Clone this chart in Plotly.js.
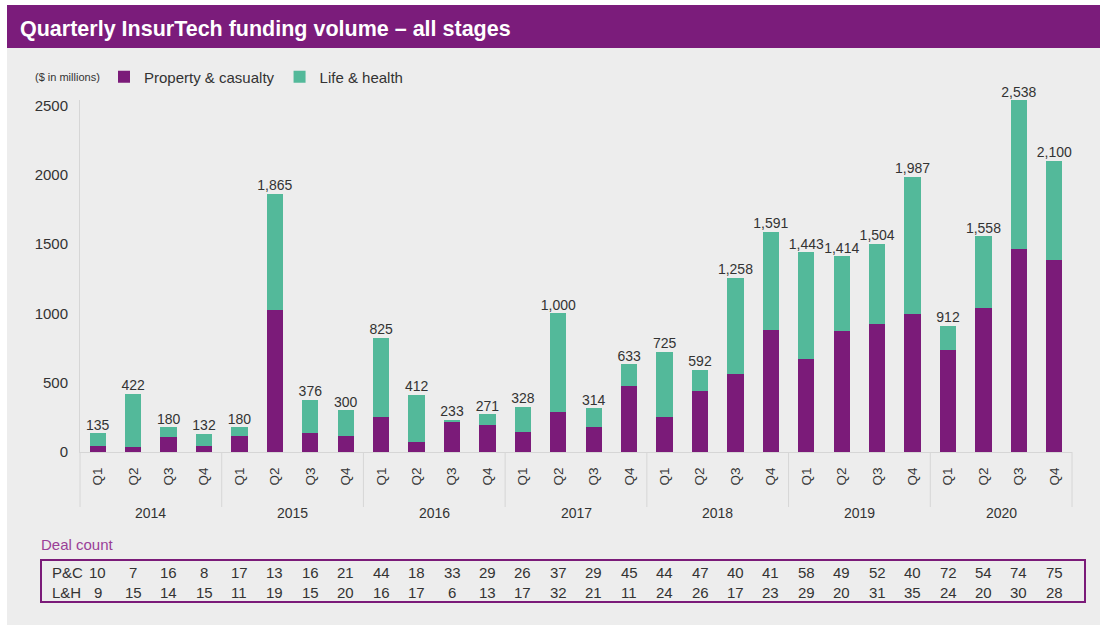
<!DOCTYPE html>
<html>
<head>
<meta charset="utf-8">
<script src="https://cdn.plot.ly/plotly-3.0.1.min.js"></script>
<style>html,body{margin:0;padding:0;background:#fff;}#chart{width:1100px;height:625px;}</style>
</head>
<body>
<div id="chart"></div>
<script>
const years = ['2014','2015','2016','2017','2018','2019','2020'];
const quarters = ['Q1','Q2','Q3','Q4'];
const totals = [135,422,180,132, 180,1865,376,300, 825,412,233,271, 328,1000,314,633, 725,592,1258,1591, 1443,1414,1504,1987, 912,1558,2538,2100];
const pcValues = [45,38,105,45, 119,1024,138,112, 250,74,219,192, 145,290,178,478, 250,442,563,879, 668,872,924,998, 739,1038,1468,1383];
const lhValues = [90,384,75,87, 61,841,238,188, 575,338,14,79, 183,710,136,155, 475,150,695,712, 775,542,580,989, 173,520,1070,717];
const pcDeals = [10,7,16,8, 17,13,16,21, 44,18,33,29, 26,37,29,45, 44,47,40,41, 58,49,52,40, 72,54,74,75];
const lhDeals = [9,15,14,15, 11,19,15,20, 16,17,6,13, 17,32,21,11, 24,26,17,23, 29,20,31,35, 24,20,30,28];
const yTicks = [0,500,1000,1500,2000,2500];

const PURPLE = '#7b1b79';
const TEAL = '#53b99a';
const TXT = '#333333';
const GRID = '#d6d6d6';
const FONT = 'Liberation Sans, Arial, sans-serif';

const xCat = [], xLab = [];
years.forEach(y => quarters.forEach(q => { xCat.push(y + ' ' + q); xLab.push(q); }));
const n = xCat.length;

const traces = [
  {type:'bar', name:'Property & casualty', x:xCat, y:pcValues, marker:{color:PURPLE}, hoverinfo:'y+name'},
  {type:'bar', name:'Life & health', x:xCat, y:lhValues, marker:{color:TEAL}, hoverinfo:'y+name'},
  {type:'scatter', mode:'text', x:xCat, y:totals, text:totals.map(v=>v.toLocaleString('en-US')),
   textposition:'top center', textfont:{size:14, color:TXT, family:FONT}, showlegend:false, hoverinfo:'skip', cliponaxis:false}
];

// layout helpers (plot area in pixels: x 80..1072, y 100..452)
const L = 80, R = 1072, T = 100, B = 452;
const px = v => (v - L) / (R - L);
const py = v => (B - v) / (B - T);

const annotations = [
  {xref:'paper', yref:'paper', x:px(33), y:py(77), xanchor:'left', yanchor:'middle', showarrow:false,
   text:'($ in millions)', font:{size:11, color:TXT, family:FONT}},
  {xref:'paper', yref:'paper', x:px(39), y:py(544), xanchor:'left', yanchor:'middle', showarrow:false,
   text:'Deal count', font:{size:15, color:'#9a3f97', family:FONT}},
  {xref:'paper', yref:'paper', x:px(50), y:py(572), xanchor:'left', yanchor:'middle', showarrow:false,
   text:'P&C', font:{size:15, color:TXT, family:FONT}},
  {xref:'paper', yref:'paper', x:px(50), y:py(592), xanchor:'left', yanchor:'middle', showarrow:false,
   text:'L&H', font:{size:15, color:TXT, family:FONT}}
];
for (let i = 0; i < n; i++) {
  annotations.push({xref:'paper', yref:'paper', x:(i+0.5)/n, y:py(572), xanchor:'center', yanchor:'middle', showarrow:false,
    text:String(pcDeals[i]), font:{size:15, color:TXT, family:FONT}});
  annotations.push({xref:'paper', yref:'paper', x:(i+0.5)/n, y:py(592), xanchor:'center', yanchor:'middle', showarrow:false,
    text:String(lhDeals[i]), font:{size:15, color:TXT, family:FONT}});
}
const per = quarters.length;
years.forEach((y, g) => {
  annotations.push({xref:'paper', yref:'paper', x:(g*per + per/2)/n, y:py(513), xanchor:'center', yanchor:'middle',
    showarrow:false, text:y, font:{size:14, color:TXT, family:FONT}});
});

const shapes = [
  {type:'rect', xref:'paper', yref:'paper', x0:px(7), x1:px(1100), y0:py(625), y1:py(48), fillcolor:'#ededed', line:{width:0}, layer:'below'},
  {type:'rect', xref:'paper', yref:'paper', x0:px(7), x1:px(1100), y0:py(48), y1:py(5), fillcolor:'#7b1c7b', line:{width:0}, layer:'below'},
  {type:'rect', xref:'paper', yref:'paper', x0:px(41), x1:px(1085), y0:py(602), y1:py(560), fillcolor:'rgba(0,0,0,0)', line:{color:PURPLE, width:2}, layer:'above'}
];
for (let g = 0; g <= years.length; g++) {
  shapes.push({type:'line', xref:'paper', yref:'paper', x0:g*per/n, x1:g*per/n, y0:py(452), y1:py(507),
    line:{color:GRID, width:1}, layer:'below'});
}

const layout = {
  width:1100, height:625,
  paper_bgcolor:'#ffffff', plot_bgcolor:'rgba(0,0,0,0)',
  margin:{l:L, r:1100-R, t:T, b:625-B, pad:0},
  barmode:'stack', bargap:0.54,
  font:{family:FONT, color:TXT},
  title:{text:'<b>Quarterly InsurTech funding volume – all stages</b>', xref:'container', yref:'container',
         x:20/1100, xanchor:'left', y:1-28/625, yanchor:'middle', font:{size:21.5, color:'#ffffff', family:FONT}},
  showlegend:true,
  legend:{orientation:'h', x:px(104), y:py(77), xanchor:'left', yanchor:'middle', bgcolor:'rgba(0,0,0,0)',
          font:{size:15, color:TXT, family:FONT}, traceorder:'normal', itemwidth:30},
  xaxis:{type:'category', range:[-0.5, n-0.5], tickvals:xCat, ticktext:xLab, showline:true, linecolor:GRID, linewidth:1,
         ticks:'', tickangle:-90, ticklabelstandoff:9, tickfont:{size:13.5, color:TXT, family:FONT},
         showgrid:false, zeroline:false, fixedrange:true},
  yaxis:{range:[0,2540], tickvals:yTicks, ticktext:yTicks.map(String),
         showline:true, linecolor:GRID, linewidth:1, showgrid:false, zeroline:false, ticks:'',
         tickfont:{size:15, color:TXT, family:FONT}, ticklabelstandoff:8, fixedrange:true},
  shapes:shapes,
  annotations:annotations
};

Plotly.newPlot('chart', traces, layout, {displayModeBar:false, staticPlot:true});
</script>
</body>
</html>
